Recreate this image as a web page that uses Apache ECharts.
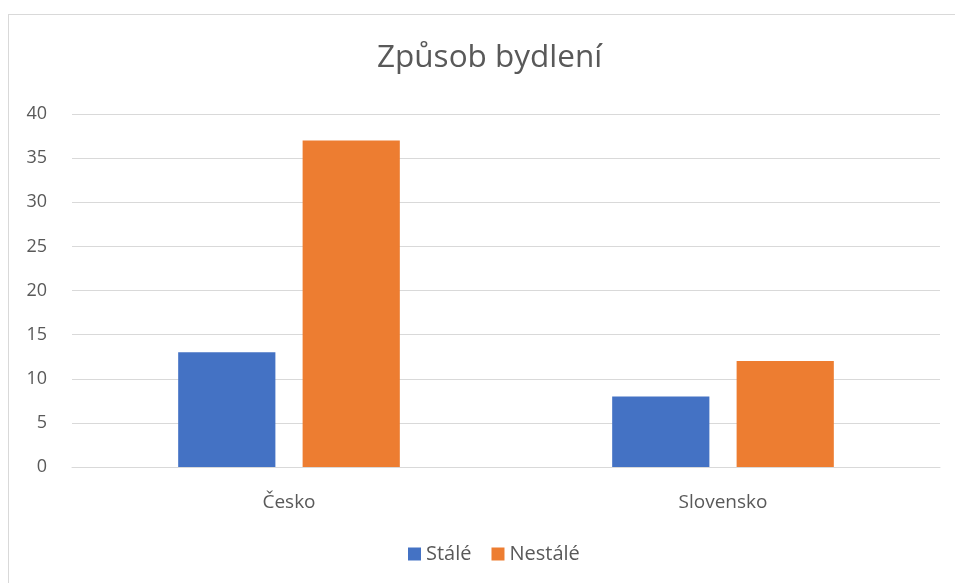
<!DOCTYPE html>
<html>
<head>
<meta charset="utf-8">
<script src="https://cdn.jsdelivr.net/npm/echarts@6/dist/echarts.min.js"></script>
<style>
  html, body { margin: 0; padding: 0; background: #fff; }
  #frame { position: absolute; left: 8px; top: 14px; width: 1000px; height: 600px;
           border-left: 1px solid #d9d9d9; border-top: 1px solid #d9d9d9; }
  #chart { position: absolute; left: 0; top: 0; width: 955px; height: 583px; }
</style>
</head>
<body>
<div id="frame"></div>
<div id="chart"></div>
<script>
  // data
  var categories = ['Česko', 'Slovensko'];
  var seriesNames = ['Stálé', 'Nestálé'];
  var stale = [13, 8];
  var nestale = [37, 12];
  var colors = ['#4472C4', '#ED7D31'];

  var font = 'Open Sans, Noto Sans, sans-serif';
  var chart = echarts.init(document.getElementById('chart'));
  chart.setOption({
    animation: false,
    title: {
      text: 'Způsob bydlení',
      left: 372,
      top: 37,
      textStyle: { fontFamily: font, fontSize: 31.5, fontWeight: 'normal', color: '#595959' }
    },
    legend: {
      data: seriesNames,
      bottom: 14,
      left: 403,
      itemWidth: 13,
      itemHeight: 13,
      itemGap: 20,
      icon: 'rect',
      textStyle: { fontFamily: font, fontSize: 20, color: '#595959' }
    },
    grid: { left: 72, right: 15, top: 114, bottom: 116 },
    xAxis: {
      type: 'category',
      data: categories,
      axisLine: { lineStyle: { color: '#d9d9d9' } },
      axisTick: { show: false },
      axisLabel: { fontFamily: font, fontSize: 19, color: '#595959', margin: 26 }
    },
    yAxis: {
      type: 'value',
      min: 0,
      max: 40,
      interval: 5,
      axisLine: { show: false },
      axisTick: { show: false },
      splitLine: { lineStyle: { color: '#d9d9d9' } },
      axisLabel: { fontFamily: font, fontSize: 18, color: '#595959', margin: 25 }
    },
    series: [
      {
        name: seriesNames[0], type: 'bar', data: stale,
        barWidth: '22.4%', barGap: '28%',
        itemStyle: { color: colors[0] }
      },
      {
        name: seriesNames[1], type: 'bar', data: nestale,
        barWidth: '22.4%', barGap: '28%',
        itemStyle: { color: colors[1] }
      }
    ]
  });
</script>
</body>
</html>
